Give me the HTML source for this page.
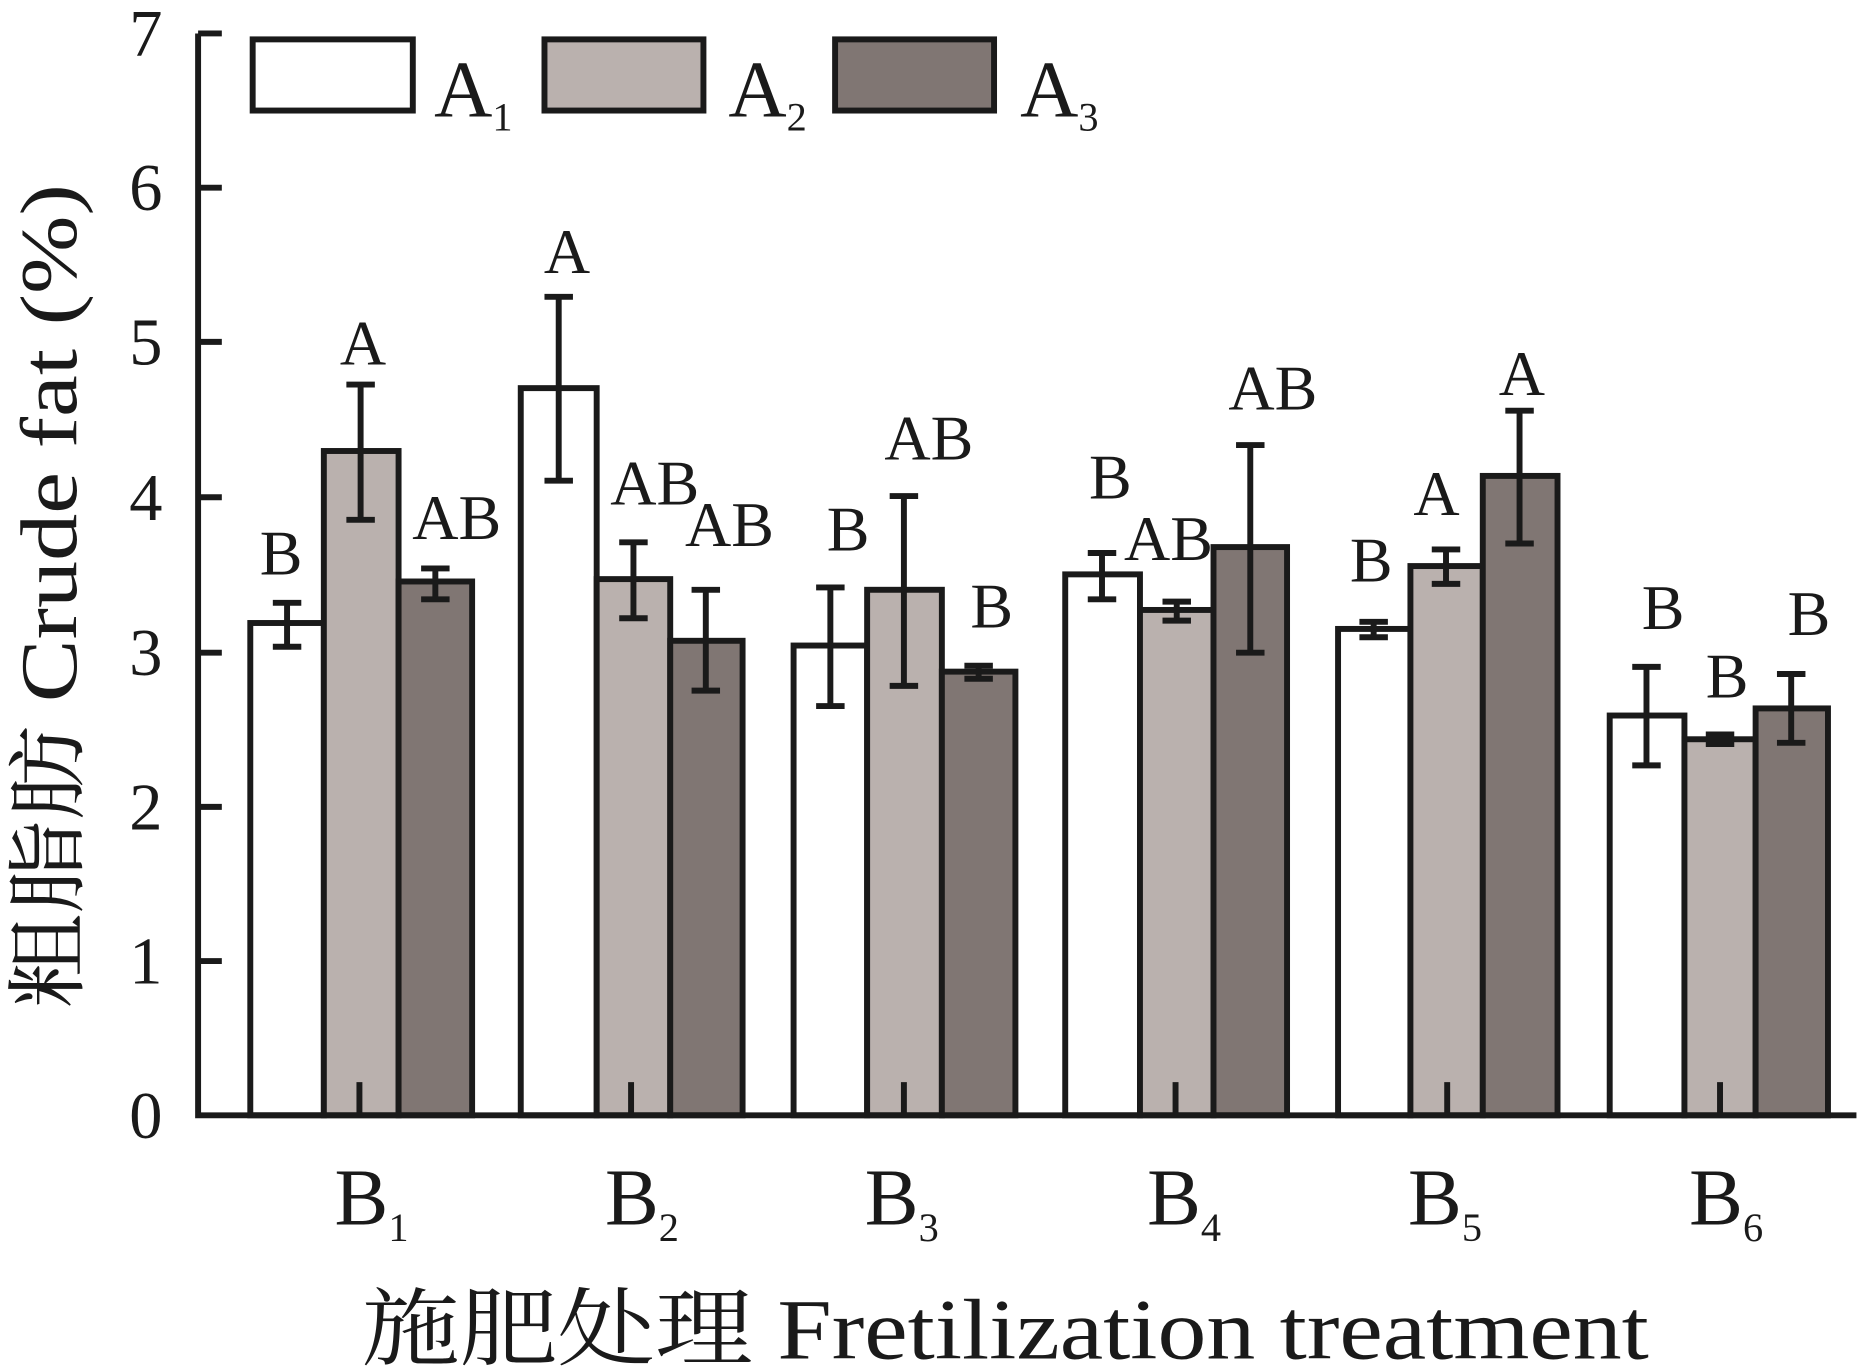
<!DOCTYPE html>
<html><head><meta charset="utf-8"><style>html,body{margin:0;padding:0;background:#fff}svg{display:block}</style></head>
<body>
<svg width="1860" height="1367" viewBox="0 0 1568 1152" xmlns="http://www.w3.org/2000/svg" font-family="'Liberation Serif','Noto Serif CJK SC',serif" fill="#1a1a1a">
<g stroke="#1a1a1a" stroke-width="5">
<g fill="#fff">
<rect x="211" y="525" width="62" height="415"/><rect x="439" y="327" width="64" height="613"/><rect x="669" y="544" width="62" height="396"/><rect x="898" y="484" width="63" height="456"/><rect x="1128" y="530" width="61" height="410"/><rect x="1357" y="603" width="63" height="337"/>
</g>
<g fill="#bab1ae">
<rect x="273" y="380" width="63" height="560"/><rect x="503" y="488" width="62" height="452"/><rect x="731" y="497" width="63" height="443"/><rect x="961" y="514" width="62" height="426"/><rect x="1189" y="477" width="61" height="463"/><rect x="1420" y="623" width="60" height="317"/>
</g>
<g fill="#807673">
<rect x="336" y="490" width="62" height="450"/><rect x="565" y="540" width="61" height="400"/><rect x="794" y="566" width="62" height="374"/><rect x="1023" y="461" width="62" height="479"/><rect x="1250" y="401" width="63" height="539"/><rect x="1480" y="597" width="61" height="343"/>
</g>
<g fill="none">
<path d="M242 508V545M230 508H254M230 545H254"/>
<path d="M304 324V438M292 324H316M292 438H316"/>
<path d="M367 479V505M355 479H379M355 505H379"/>
<path d="M471 250V405M459 250H483M459 405H483"/>
<path d="M534 457V521M522 457H546M522 521H546"/>
<path d="M595 497V582M583 497H607M583 582H607"/>
<path d="M700 495V595M688 495H712M688 595H712"/>
<path d="M762 418V578M750 418H774M750 578H774"/>
<path d="M825 561V572M813 561H837M813 572H837"/>
<path d="M929 466V505M917 466H941M917 505H941"/>
<path d="M992 507V523M980 507H1004M980 523H1004"/>
<path d="M1054 375V550M1042 375H1066M1042 550H1066"/>
<path d="M1158 524V537M1146 524H1170M1146 537H1170"/>
<path d="M1219 463V492M1207 463H1231M1207 492H1231"/>
<path d="M1281 346V458M1269 346H1293M1269 458H1293"/>
<path d="M1388 562V645M1376 562H1400M1376 645H1400"/>
<path d="M1450 619V627M1438 619H1462M1438 627H1462"/>
<path d="M1510 568V626M1498 568H1522M1498 626H1522"/>
<path d="M167 28V940H1565"/>
<path d="M167 28H187M167 158H187M167 288H187M167 419H187M167 550H187M167 680H187M167 810H187"/>
<path d="M303 912V940M532 912V940M762 912V940M991 912V940M1220 912V940M1450 912V940"/>
</g>
<rect x="213" y="33" width="135" height="60" fill="#fff"/>
<rect x="459" y="33" width="134" height="60" fill="#bab1ae"/>
<rect x="704" y="33" width="134" height="60" fill="#807673"/>
</g>
<g font-size="68"><text x="366" y="98">A<tspan font-size="34" dy="12">1</tspan></text><text x="614" y="98">A<tspan font-size="34" dy="12">2</tspan></text><text x="860" y="98">A<tspan font-size="34" dy="12">3</tspan></text></g>
<g font-size="56" text-anchor="end"><text x="137" y="47">7</text><text x="137" y="177">6</text><text x="137" y="307">5</text><text x="137" y="438">4</text><text x="137" y="569">3</text><text x="137" y="699">2</text><text x="137" y="829">1</text><text x="137" y="959">0</text></g>
<g font-size="54" text-anchor="middle">
<text x="237" y="484">B</text><text x="306" y="307">A</text><text x="385" y="454">AB</text>
<text x="478" y="230">A</text><text x="552" y="425">AB</text><text x="615" y="460">AB</text>
<text x="715" y="464">B</text><text x="783" y="387">AB</text><text x="836" y="529">B</text>
<text x="936" y="420">B</text><text x="985" y="472">AB</text><text x="1073" y="345">AB</text>
<text x="1156" y="490">B</text><text x="1211" y="434">A</text><text x="1283" y="333">A</text>
<text x="1402" y="530">B</text><text x="1456" y="588">B</text><text x="1525" y="535">B</text>
</g>
<g font-size="68"><text x="282" y="1032">B<tspan font-size="34" dy="14">1</tspan></text><text x="510" y="1032">B<tspan font-size="34" dy="14">2</tspan></text><text x="729" y="1032">B<tspan font-size="34" dy="14">3</tspan></text><text x="967" y="1032">B<tspan font-size="34" dy="14">4</tspan></text><text x="1187" y="1032">B<tspan font-size="34" dy="14">5</tspan></text><text x="1424" y="1032">B<tspan font-size="34" dy="14">6</tspan></text></g>
<text x="305" y="1145" font-size="72" textLength="1085" lengthAdjust="spacingAndGlyphs">施肥处理 Fretilization treatment</text>
<text transform="translate(64,850) rotate(-90)" font-size="68" textLength="695" lengthAdjust="spacingAndGlyphs">粗脂肪 Crude fat (%)</text>
</svg>
</body></html>
